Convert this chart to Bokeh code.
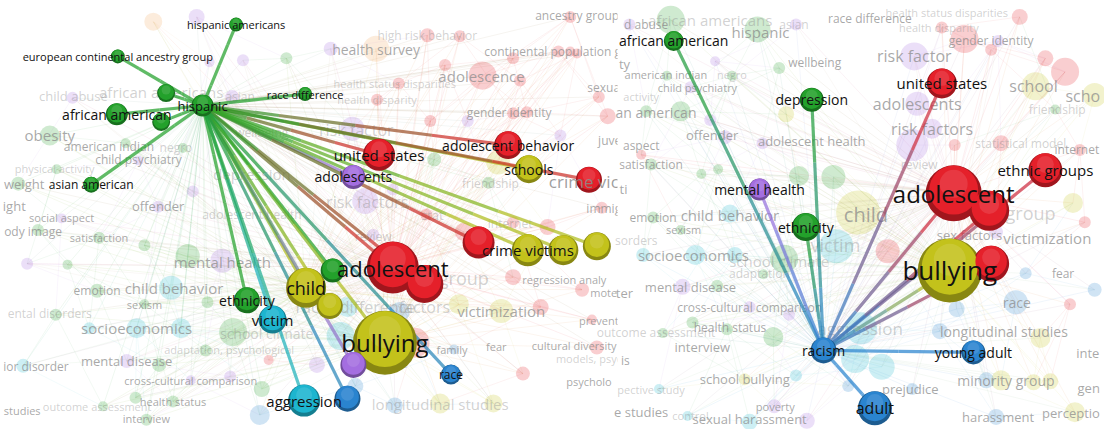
from bokeh.plotting import figure
from bokeh.models import Range1d, ColumnDataSource
from bokeh.core.properties import value
from bokeh.embed import file_html
from bokeh.resources import INLINE

# ---------------- palette ----------------
COL = {
    "green": "#23a12b", "red": "#e5202a", "yellow": "#c3c21b", "purple": "#a46ee0",
    "cyan": "#1db5cf", "blue": "#2a84cf", "orange": "#f0a860", "gray": "#9a9a9a",
}

# ---------------- left panel: highlighted network (hub = hispanic) ----------------
L_labels = ["hispanic", "hispanic americans", "european continental ancestry group", "race difference",
            "african american", "", "", "asian american", "united states", "adolescents",
            "adolescent behavior", "schools", "", "", "crime victims", "", "",
            "adolescent", "", "", "child", "", "ethnicity", "victim", "bullying", "",
            "race", "aggression", ""]
L_x = [205, 239, 119, 309, 118, 168, 163, 92, 384, 358, 515, 536, 597, 485, 535, 571, 605,
       398, 430, 337, 310, 334, 250, 276, 390, 358, 457, 308, 352]
L_y = [109, 25, 58, 97, 118, 96, 126, 191, 160, 183, 150, 175, 186, 251, 259, 259, 255,
       277, 294, 280, 298, 317, 311, 331, 355, 378, 388, 415, 413]
L_r = [11, 7, 7, 7, 11, 9, 9, 8, 16, 12, 14, 14, 13, 16, 16, 15, 14,
       26, 19, 12, 20, 13, 13, 14, 32, 13, 10, 16, 13]
L_col = ["green", "green", "green", "green", "green", "green", "green", "green", "red", "purple",
         "red", "yellow", "red", "red", "yellow", "yellow", "yellow",
         "red", "red", "green", "yellow", "yellow", "green", "cyan", "yellow", "purple",
         "blue", "cyan", "blue"]
L_fs = [13, 11, 11, 11, 14, 0, 0, 12, 15, 14, 14, 14, 0, 0, 15, 0, 0,
        22, 0, 0, 18, 0, 14, 15, 24, 0, 12, 15, 0]
L_hub = 0

# ---------------- right panel: highlighted network (hub = racism) ----------------
R_labels = ["racism", "african american", "depression", "united states", "ethnic groups",
            "adolescent", "", "mental health", "ethnicity", "", "bullying",
            "young adult", "adult"]
R_x = [835, 683, 823, 955, 1060, 967, 1003, 770, 817, 1005, 963, 987, 887]
R_y = [363, 42, 103, 86, 176, 200, 218, 196, 235, 273, 280, 365, 423]
R_r = [13, 10, 12, 15, 17, 28, 20, 11, 14, 18, 32, 12, 17]
R_col = ["blue", "green", "green", "red", "red", "red", "red", "purple", "green", "red",
         "yellow", "blue", "blue"]
R_fs = [14, 14, 14, 15, 15, 24, 0, 14, 14, 0, 26, 14, 16]
R_hub = 0

# ---------------- faded background: left ----------------
LF_text = ["high risk behavior", "health survey", "continental population grou", "ancestry group",
           "adolescence", "health status disparities", "health disparity", "gender identity", "sexua",
           "african americans", "child abuse", "asian", "obesity", "american indian", "negro",
           "child psychiatry", "physical activity", "weight", "wellbeing", "risk factor", "depression",
           "offender", "adolescent health", "social aspect", "satisfaction",
           "risk factors", "juve", "immig", "internet", "review", "friendship", "mental health",
           "emotion", "child behavior", "sexism", "socioeconomics",
           "school climate", "adaptation, psychological", "ior disorder", "mental disease",
           "cross-cultural comparison", "health status", "outcome assessment", "studies", "interview",
           "victimization", "regression analy", "mote", "prevent", "family", "fear",
           "cultural diversity", "models, psyc", "psycholo", "longitudinal studies", "violence",
           "racial difference", "factors", "group", "stat", "ight", "ody image", "ental disorders"]
LF_x = [433, 381, 570, 585, 488, 400, 382, 516, 612, 163, 74, 243, 50, 110, 178,
        140, 55, 24, 265, 361, 255, 160, 255, 62, 100, 372, 618, 612, 517, 378, 497, 225,
        98, 176, 146, 138, 270, 232, 36, 128, 193, 175, 98, 22, 148,
        508, 572, 612, 607, 458, 503, 582, 597, 597, 446, 382, 360, 430, 470, 438, 14, 33, 50]
LF_y = [36, 51, 53, 16, 78, 86, 103, 116, 90, 95, 99, 100, 140, 151, 153, 165, 174, 190, 137,
        134, 180, 213, 222, 225, 246, 209, 145, 216, 231, 245, 190, 271, 301, 298, 315,
        340, 345, 362, 380, 374, 394, 416, 421, 425, 434, 322, 289, 303, 332, 362, 359,
        358, 371, 395, 419, 375, 318, 318, 288, 222, 213, 240, 325]
LF_fs = [12, 14, 12, 12, 15, 11, 11, 12, 12, 15, 13, 12, 15, 12, 12, 12, 11, 13, 12,
         16, 15, 13, 12, 11, 11, 16, 12, 12, 12, 12, 12, 15, 12, 15, 11,
         15, 14, 11, 12, 13, 11, 11, 11, 11, 11, 15, 11, 11, 11, 11, 11,
         11, 11, 11, 15, 16, 16, 16, 18, 13, 13, 12, 12]
LF_lvl = [2, 1, 1, 1, 1, 2, 2, 1, 1, 2, 2, 2, 1, 1, 2, 1, 2, 1, 2, 2, 2, 1, 2, 1, 1,
          2, 1, 1, 2, 2, 2, 1, 1, 1, 1, 1, 2, 2, 1, 1, 1, 1, 2, 1, 1, 1, 1, 1, 1, 1, 1,
          1, 2, 1, 2, 2, 2, 2, 2, 2, 1, 1, 2]

LN_x = [155, 199, 290, 212, 246, 235, 73, 50, 127, 185, 140, 57, 18, 195, 160, 62, 38, 100, 146,
        27, 68, 190, 225, 98, 173, 146, 210, 56, 90, 138, 183, 236, 208, 272, 128, 161, 23, 193,
        233, 265, 137, 175, 104, 148, 263,
        381, 335, 433, 466, 451, 489, 527, 566, 578, 585, 578, 404, 382, 436, 474, 520, 534, 607,
        568, 357, 440, 505, 495, 370, 398, 432, 520, 610, 378, 520, 508, 548, 600, 530, 420, 460,
        405, 352, 345, 321, 360, 400, 446, 500, 465, 555, 590, 616, 470, 605, 520]
LN_y = [22, 17, 60, 64, 62, 100, 101, 140, 148, 153, 166, 175, 190, 198, 214, 226, 238, 246, 254,
        273, 274, 265, 270, 301, 298, 315, 313, 326, 340, 340, 340, 344, 363, 373, 374, 378, 379,
        394, 390, 403, 412, 416, 421, 435, 430,
        50, 50, 36, 37, 67, 78, 83, 53, 53, 55, 17, 86, 103, 125, 125, 117, 116, 100,
        140, 133, 165, 168, 189, 208, 196, 222, 230, 215, 243, 287, 322, 318, 331, 387, 355, 362,
        323, 318, 348, 378, 400, 420, 418, 418, 315, 235, 300, 120, 240, 360, 60]
LN_r = [9, 8, 6, 5, 6, 7, 6, 10, 5, 5, 5, 5, 7, 6, 6, 5, 6, 6, 6, 6, 5, 12, 12, 7, 12, 5, 6, 6,
        6, 10, 10, 14, 6, 5, 7, 7, 7, 5, 6, 8, 6, 6, 5, 6, 10,
        13, 7, 7, 6, 6, 14, 6, 6, 5, 5, 6, 6, 6, 6, 6, 6, 6, 6, 6, 12, 7, 12, 6, 13, 6, 6,
        6, 6, 6, 8, 12, 8, 5, 7, 15, 5, 10, 10, 14, 8, 8, 8, 10, 9, 10, 8, 7, 8, 9, 7, 6]
LN_col = ["orange", "purple", "green", "purple", "purple", "purple", "purple", "green", "green",
          "green", "purple", "green", "green", "purple", "purple", "purple", "green", "green",
          "green", "purple", "green", "green", "purple", "green", "cyan", "green", "green", "green",
          "cyan", "cyan", "cyan", "green", "green", "red", "purple", "green", "cyan", "purple",
          "purple", "green", "green", "green", "green", "green", "blue",
          "orange", "purple", "red", "red", "red", "red", "red", "red", "red", "red", "red", "red",
          "red", "red", "purple", "red", "red", "red", "purple", "purple", "green", "yellow",
          "green", "purple", "purple", "red", "red", "red", "purple", "red", "yellow", "red",
          "red", "red", "red", "blue", "blue", "cyan", "cyan", "purple", "blue", "blue", "yellow",
          "yellow", "yellow", "red", "red", "red", "red", "red", "red"]

# ---------------- faded background: right ----------------
RF_text = ["d abuse", "african americans", "hispanic", "asian", "race difference",
           "health status disparities", "health disparity", "gender identity", "risk factor",
           "school", "scho", "adolescents", "friendship", "risk factors", "statistical model",
           "internet", "review", "wellbeing", "american indian", "negro", "child psychiatry",
           "activity", "an american", "offender", "adolescent health", "aspect", "satisfaction",
           "child", "victim", "child behavior", "emotion", "sexism", "sorders", "socioeconomics",
           "school climate", "adaptation", "mental disease", "cross-cultural comparison",
           "health status", "outcome assessment", "interview", "school bullying", "poverty",
           "sexual harassment", "e studies", "control", "pective study", "sex factors",
           "victimization", "fear", "race", "aggression", "longitudinal studies",
           "minority group", "prejudice", "harassment", "perceptio", "inte", "gen", "group",
           "ter", "is", "ty", "ti"]
RF_x = [655, 720, 771, 805, 882, 960, 952, 1005, 927, 1048, 1098, 930, 1072, 945, 1035,
        1092, 932, 826, 675, 742, 707, 650, 665, 722, 823, 650, 660,
        878, 847, 740, 662, 693, 645, 703, 790, 770, 700, 760, 740, 665, 712, 755, 786,
        760, 650, 700, 660, 983, 1062, 1078, 1031, 872, 1018, 1020, 923, 1012, 1086, 1103,
        1104, 1045, 633, 634, 633, 632]
RF_y = [25, 20, 33, 25, 19, 12, 28, 42, 58, 89, 99, 107, 113, 133, 148, 155, 170, 64, 77, 77,
        90, 100, 116, 139, 146, 150, 170, 222, 254, 222, 225, 238, 249, 264, 270, 283, 297,
        318, 339, 344, 359, 393, 421, 434, 427, 430, 403, 243, 246, 283, 313, 340, 343, 394,
        403, 432, 428, 366, 402, 220, 303, 373, 66, 196]
RF_fs = [12, 15, 15, 12, 12, 11, 11, 12, 16, 16, 16, 16, 12, 16, 12, 12, 12, 12, 11, 11, 11,
         11, 14, 13, 13, 12, 12, 20, 18, 15, 12, 11, 12, 15, 15, 12, 13, 12, 12, 12, 13, 13,
         11, 13, 13, 11, 11, 13, 15, 12, 14, 17, 14, 14, 13, 13, 13, 13, 13, 18, 13, 12, 13, 13]
RF_lvl = [1, 2, 1, 2, 1, 2, 2, 1, 1, 1, 1, 1, 2, 1, 2, 1, 2, 1, 1, 2, 1, 2, 1, 1, 1, 1, 1,
          1, 2, 1, 1, 1, 2, 1, 2, 2, 1, 1, 1, 2, 1, 1, 1, 1, 1, 2, 2, 1, 1, 1, 1, 2, 1, 1, 1,
          1, 1, 1, 1, 2, 1, 1, 1, 1]

RN_x = [680, 768, 807, 638, 725, 790, 676, 742, 700, 655, 690, 720, 735, 773, 797, 650, 660,
        711, 728, 810, 845, 870, 848, 740, 690, 662, 652, 705, 745, 795, 774, 692, 727, 760,
        800, 702, 737, 784, 672, 807, 755, 785, 760, 818, 668, 697, 873,
        925, 927, 930, 945, 1012, 1050, 1110, 1080, 1005, 955, 1015, 1095, 1070, 1010, 968,
        1100, 1085, 1040, 1030, 1055, 970, 953, 925, 1015, 1000, 1048, 1010, 1090, 894, 867,
        860, 978, 1034, 1088, 1060, 900, 1110, 1065]
RN_y = [20, 30, 25, 25, 63, 70, 78, 78, 90, 115, 115, 124, 142, 148, 118, 160, 170, 180, 175,
        182, 183, 220, 255, 221, 238, 225, 264, 264, 264, 268, 284, 297, 296, 318, 326, 334,
        341, 349, 345, 389, 393, 421, 437, 436, 403, 431, 340,
        150, 58, 107, 133, 42, 89, 98, 74, 51, 28, 148, 155, 113, 240, 150, 230, 315, 283,
        313, 350, 320, 343, 403, 394, 394, 396, 432, 427, 380, 372, 400, 40, 17, 210, 60, 260,
        300, 395]
RN_r = [14, 13, 6, 6, 5, 6, 5, 5, 6, 6, 10, 6, 7, 6, 8, 5, 6, 5, 5, 10, 12, 22, 17, 9, 5, 6,
        7, 10, 8, 14, 5, 8, 6, 6, 6, 6, 6, 10, 5, 6, 6, 7, 8, 8, 5, 5, 16,
        16, 14, 12, 10, 6, 14, 12, 14, 6, 6, 8, 6, 5, 7, 6, 6, 6, 6, 12, 10, 8, 8, 6, 10, 8,
        8, 8, 10, 13, 14, 6, 14, 8, 10, 8, 12, 7, 8]
RN_col = ["green", "green", "purple", "purple", "purple", "green", "green", "green", "purple",
          "green", "green", "purple", "purple", "purple", "yellow", "red", "green", "green",
          "green", "green", "green", "yellow", "cyan", "cyan", "green", "green", "cyan", "cyan",
          "cyan", "green", "green", "purple", "green", "purple", "purple", "green", "green",
          "green", "green", "cyan", "yellow", "purple", "cyan", "purple", "cyan", "cyan", "cyan",
          "purple", "purple", "purple", "purple", "purple", "yellow", "yellow", "red", "red",
          "red", "red", "red", "green", "purple", "red", "red", "red", "blue", "blue", "yellow",
          "blue", "blue", "blue", "yellow", "blue", "yellow", "blue", "yellow", "cyan", "cyan",
          "blue", "red", "red", "yellow", "red", "red", "blue", "yellow"]


def mix(c1, c2, t=0.5):
    a = [int(c1[i:i + 2], 16) for i in (1, 3, 5)]
    b = [int(c2[i:i + 2], 16) for i in (1, 3, 5)]
    return "#%02x%02x%02x" % tuple(int(a[k] * (1 - t) + b[k] * t) for k in range(3))


def shade(c, f):
    a = [int(c[i:i + 2], 16) for i in (1, 3, 5)]
    if f < 0:
        return "#%02x%02x%02x" % tuple(int(v * (1 + f)) for v in a)
    return "#%02x%02x%02x" % tuple(int(v + (255 - v) * f) for v in a)


p = figure(width=1104, height=429, output_backend="svg", toolbar_location=None,
           x_range=Range1d(0, 1120), y_range=Range1d(445, 0),
           x_axis_type=None, y_axis_type=None, min_border=0)
p.grid.visible = False
p.outline_line_color = None
p.background_fill_color = "white"

FONT = value("Open Sans")
STEPS = 4  # pieces per highlighted edge, to fake a colour gradient


def draw_panel(fx, fy, fr, fc, tt, tx, ty, tf, tl, nx, ny, nr, nc, lab, fs, hub, hubs_bg):
    # faint background edges (fan toward main hubs)
    x0, y0, x1, y1, ec = [], [], [], [], []
    for i in range(len(fx)):
        for h in hubs_bg:
            x0.append(fx[i]); y0.append(fy[i]); x1.append(nx[h]); y1.append(ny[h])
            ec.append(mix(COL[fc[i]], COL[nc[h]]))
    p.segment(x0, y0, x1, y1, line_color=ec, line_alpha=0.07, line_width=1)
    x0, y0, x1, y1, ec = [], [], [], [], []
    for i in range(len(fx)):
        for j in range(i + 1, len(fx)):
            d = ((fx[i] - fx[j]) ** 2 + (fy[i] - fy[j]) ** 2) ** 0.5
            if 40 < d < 110 and (i + j) % 3 == 0:
                x0.append(fx[i]); y0.append(fy[i]); x1.append(fx[j]); y1.append(fy[j])
                ec.append(COL[fc[i]])
    p.segment(x0, y0, x1, y1, line_color=ec, line_alpha=0.06, line_width=1)
    # faint nodes
    p.scatter(fx, fy, size=[2 * r for r in fr], marker="circle",
              fill_color=[COL[c] for c in fc], fill_alpha=0.22, line_color=None)
    # faint labels
    src = ColumnDataSource(dict(x=tx, y=ty, t=tt, fs=["%dpx" % f for f in tf],
                                a=[0.75 if l == 1 else 0.4 for l in tl]))
    p.text("x", "y", text="t", source=src, text_font=FONT, text_font_size="fs",
           text_color="#8c8c8c", text_alpha="a", text_align="center", text_baseline="middle")
    # highlighted edges, drawn as gradient pieces from hub colour to node colour
    ex0, ey0, ex1, ey1, ecol = [], [], [], [], []
    for i in range(len(nx)):
        if i == hub:
            continue
        for k in range(STEPS):
            t0, t1 = k / STEPS, (k + 1) / STEPS
            ex0.append(nx[hub] + (nx[i] - nx[hub]) * t0)
            ey0.append(ny[hub] + (ny[i] - ny[hub]) * t0)
            ex1.append(nx[hub] + (nx[i] - nx[hub]) * t1)
            ey1.append(ny[hub] + (ny[i] - ny[hub]) * t1)
            ecol.append(mix(COL[nc[hub]], COL[nc[i]], (t0 + t1) / 2))
    p.segment(ex0, ey0, ex1, ey1, line_color=ecol, line_alpha=0.72, line_width=3.2,
              line_cap="butt")
    # highlighted nodes with a shaded look
    order = sorted(range(len(nx)), key=lambda i: -nr[i])
    xs = [nx[i] for i in order]; ys = [ny[i] for i in order]; rs = [nr[i] for i in order]
    cs = [COL[nc[i]] for i in order]
    p.scatter(xs, ys, size=[2 * r for r in rs], marker="circle",
              fill_color=[shade(c, -0.3) for c in cs], line_color=None)
    p.scatter(xs, [y - 0.12 * r for y, r in zip(ys, rs)], size=[1.75 * r for r in rs],
              marker="circle", fill_color=cs, line_color=None)
    p.scatter(xs, [y - 0.35 * r for y, r in zip(ys, rs)], size=[1.0 * r for r in rs],
              marker="circle", fill_color=[shade(c, 0.25) for c in cs], fill_alpha=0.45,
              line_color=None)
    # labels
    li = [i for i in range(len(nx)) if lab[i]]
    src2 = ColumnDataSource(dict(x=[nx[i] for i in li], y=[ny[i] for i in li],
                                 t=[lab[i] for i in li], fs=["%dpx" % fs[i] for i in li]))
    p.text("x", "y", text="t", source=src2, text_font=FONT, text_font_size="fs",
           text_color="#111111", text_align="center", text_baseline="middle")


draw_panel(LN_x, LN_y, LN_r, LN_col, LF_text, LF_x, LF_y, LF_fs, LF_lvl,
           L_x, L_y, L_r, L_col, L_labels, L_fs, L_hub, [17, 24, 20, 0])
# crime victims label partially hidden (faded in reference)
p.text([597], [188], text=["crime victi"], text_font=FONT, text_font_size="17px",
       text_color="#8c8c8c", text_alpha=0.85, text_align="center", text_baseline="middle")

# right panel sits on top of the left one
p.quad(left=[626], right=[1120], top=[0], bottom=[445], fill_color="white", line_color=None)

draw_panel(RN_x, RN_y, RN_r, RN_col, RF_text, RF_x, RF_y, RF_fs, RF_lvl,
           R_x, R_y, R_r, R_col, R_labels, R_fs, R_hub, [5, 10, 0])

open("out.html", "w").write(file_html(p, INLINE))
